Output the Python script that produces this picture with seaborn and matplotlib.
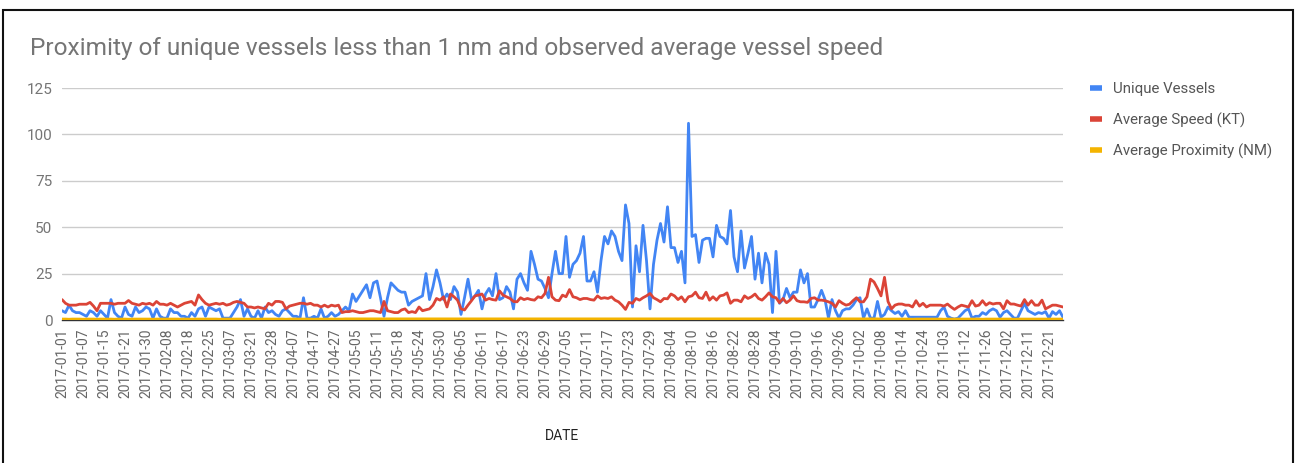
import numpy as np
import pandas as pd
import matplotlib
matplotlib.use("Agg")
import matplotlib.pyplot as plt
import seaborn as sns
from matplotlib.patches import Rectangle
from matplotlib.lines import Line2D

# ---- data (one value per plotted date) ----
unique_vessels = [
    5, 4, 8, 5, 4, 4,   3, 2, 5, 4, 2, 5,   3, 1, 11, 4, 2, 1,   7, 3, 2, 7, 4, 5,
    7, 6, 1, 6, 2, 1,   1, 6, 4, 4, 2, 2,   1, 4, 2, 6, 7, 2,   7, 6, 5, 6, 1, 1,
    1, 4, 7, 11, 2, 6,  2, 1, 5, 1, 7, 4,   5, 3, 2, 5, 6, 4,   2, 2, 1, 12, 1, 1,
    2, 1, 6, 1, 2, 4,   2, 3, 5, 7, 5, 14,  10, 13, 16, 19, 12, 20, 21, 12, 2, 12, 20, 18,
    16, 15, 15, 8, 10, 11, 12, 13, 25, 11, 18, 27, 20, 11, 14, 11, 18, 15, 3, 12, 22, 11, 13, 16,
    6, 14, 17, 13, 25, 11, 12, 18, 15, 6, 22, 25, 20, 16, 37, 30, 22, 21, 17, 12, 25, 37, 25, 25,
    45, 23, 30, 32, 36, 45, 21, 21, 26, 15, 32, 45, 41, 48, 45, 37, 32, 62, 52, 7, 40, 26, 51, 32,
    6, 30, 43, 52, 42, 61, 39, 39, 31, 37, 20, 106, 45, 46, 31, 43, 44, 44, 34, 51, 45, 44, 41, 59,
    34, 26, 48, 28, 36, 45, 22, 36, 20, 36, 30, 4, 37, 9, 11, 17, 12, 15, 15, 27, 20, 25, 7, 7,
    11, 16, 11, 1, 11, 5, 1, 5, 6, 6, 8, 11, 12, 1, 6, 1, 1, 10, 1.5, 3, 7, 5, 3.5, 4.5,
    2, 5, 1.5, 1.5, 1.5, 1.5, 1.5, 1.5, 1.5, 1.5, 1.5, 5, 7, 2, 1, 0.5, 1, 3, 5, 6, 1, 2, 2, 4,
    3, 5, 6, 5, 1.5, 4, 5, 3, 1, 1, 5, 9, 5, 4, 3, 4, 3.5, 4.5, 1, 4.5, 3, 5, 1.5,
]

average_speed = [
    11, 9, 8, 8, 8, 8.5,   8.5, 8.5, 9.5, 7.5, 5, 9,   9, 9, 9, 8.5, 9, 9,   9, 10.5, 9, 8.5, 8, 9,
    8.5, 9, 8, 10, 8.5, 8.5,   8, 9, 8, 7, 8, 9,   9.5, 10, 8, 13.5, 11, 9,   8, 8.5, 9, 8.5, 9, 8,
    8.5, 9.5, 10, 9.5, 9, 7,   7, 6.5, 7, 6.5, 6, 9,   8, 10, 10, 9.5, 6, 7.5,   8, 8.5, 9, 9, 8.5, 9,
    8, 8, 7, 8, 7, 8,   7.5, 8, 4, 4.5, 4.5, 5,   4.5, 4, 4, 4.5, 5, 5,   4.5, 4, 10, 5, 4.5, 4,
    4, 5.4, 6, 4, 4.5, 4,   7, 5, 5.5, 6, 8, 11.6,   10.7, 12.5, 7, 14, 12.5, 10.7,   6, 5.4, 8, 10.4, 13, 13.4,
    14, 10.7, 11.6, 11, 10.7, 15.7,   13.4, 12.5, 11.6, 10, 9.8, 12,   11, 11.6, 11, 10.7, 12.5, 12,
    14.3, 23, 12.5, 10.7, 10.4, 13.4,   12.5, 16.4, 12.5, 12, 11, 11.6,   11.6, 11, 10.7, 13, 11.6, 12,
    11.6, 12.5, 10.7, 9.8, 8, 5.7,   9.5, 9, 11.6, 10.7, 12, 13,   14.3, 12, 11, 9.8, 11.6, 11.4,
    14, 13, 11, 12.5, 9.8, 12.5,   13, 15, 12, 11.6, 15, 10.7,   12.5, 10.7, 13, 13.4, 14.6, 9,
    10.7, 10.7, 9.8, 13, 11.6, 12.5,   14, 11.6, 10.7, 12.5, 14.6, 12.5,   12, 9.3, 11.6, 9.3, 10.7, 13,
    10.4, 9.8, 9.8, 9.5, 11.6, 12,   10.7, 10.7, 10.4, 9.8, 9, 7,   10.4, 9, 8, 8.5, 10.4, 12,
    9.8, 9.8, 12.5, 22, 20.5, 17,   13, 23, 10, 6, 8, 8.6,   8.6, 8, 8, 7, 10.4, 7.5,
    9, 7, 8, 8, 8, 8,   7.5, 8.6, 7, 5.7, 7, 8,   7.5, 7, 10.4, 7.5, 8, 10.4,
    8, 9.3, 8.6, 9, 9, 6,   10.4, 8.6, 8.6, 8, 7.5, 11,   8, 10.4, 8, 8, 10.7, 6,   7, 8, 8, 7.5, 7,
]

average_proximity = [
    0.5, 0.5, 0.4, 0.5, 0.5, 0.5,  0.4, 0.5, 0.5, 0.5, 0.4, 0.5,  0.5, 0.5, 0.5, 0.4, 0.5, 0.5,
    0.5, 0.4, 0.5, 0.5, 0.5, 0.5,  0.5, 0.5, 0.4, 0.5, 0.5, 0.5,  0.5, 0.5, 0.5, 0.5, 0.4, 0.5,
    0.5, 0.4, 0.5, 0.5, 0.5, 0.5,  0.5, 0.5, 0.5, 0.4, 0.5, 0.5,  0.5, 0.5, 0.5, 0.5, 0.5, 0.4,
    0.5, 0.5, 0.4, 0.5, 0.5, 0.5,  0.5, 0.5, 0.5, 0.5, 0.4, 0.5,  0.5, 0.5, 0.5, 0.5, 0.5, 0.5,
    0.4, 0.5, 0.5, 0.5, 0.5, 0.5,  0.5, 0.5, 0.5, 0.6, 0.6, 0.6,  0.6, 0.6, 0.6, 0.6, 0.6, 0.6,
    0.6, 0.6, 0.6, 0.6, 0.6, 0.6,  0.6, 0.6, 0.6, 0.6, 0.6, 0.6,  0.6, 0.6, 0.6, 0.6, 0.6, 0.6,
    0.6, 0.6, 0.6, 0.6, 0.6, 0.6,  0.6, 0.6, 0.6, 0.6, 0.6, 0.6,  0.6, 0.6, 0.6, 0.6, 0.6, 0.6,
    0.6, 0.6, 0.6, 0.6, 0.6, 0.6,  0.6, 0.6, 0.6, 0.6, 0.6, 0.6,  0.6, 0.6, 0.6, 0.6, 0.6, 0.6,
    0.6, 0.6, 0.6, 0.6, 0.6, 0.6,  0.6, 0.6, 0.6, 0.6, 0.6, 0.6,  0.6, 0.6, 0.6, 0.6, 0.6, 0.6,
    0.6, 0.6, 0.6, 0.6, 0.6, 0.6,  0.6, 0.6, 0.6, 0.6, 0.6, 0.6,  0.6, 0.6, 0.6, 0.6, 0.6, 0.6,
    0.6, 0.6, 0.6, 0.6, 0.6, 0.6,  0.6, 0.6, 0.6, 0.6, 0.6, 0.6,  0.6, 0.6, 0.6, 0.6, 0.6, 0.6,
    0.6, 0.6, 0.6, 0.6, 0.6, 0.6,  0.6, 0.6, 0.6, 0.6, 0.6, 0.6,  0.6, 0.6, 0.6, 0.6, 0.6, 0.6,
    0.6, 0.6, 0.6, 0.6, 0.6, 0.6,  0.6, 0.6, 0.6, 0.6, 0.6, 0.6,  0.6, 0.6, 0.6, 0.6, 0.6, 0.6,
    0.5, 0.5, 0.5, 0.5, 0.5, 0.5,  0.5, 0.5, 0.5, 0.4, 0.5, 0.5,  0.5, 0.5, 0.5, 0.5, 0.5, 0.5,
    0.4, 0.5, 0.5, 0.5, 0.5, 0.5,  0.5, 0.5, 0.5, 0.5, 0.5, 0.4,  0.5, 0.5, 0.5, 0.5, 0.5, 0.5,
    0.5, 0.5, 0.4, 0.5, 0.5, 0.5,  0.5, 0.5, 0.5, 0.5, 0.5, 0.5,  0.5, 0.5, 0.5, 0.5, 0.5,
]

tick_labels = [
    "2017-01-01", "2017-01-07", "2017-01-15", "2017-01-21", "2017-01-30", "2017-02-08",
    "2017-02-18", "2017-02-25", "2017-03-07", "2017-03-21", "2017-03-28", "2017-04-07",
    "2017-04-17", "2017-04-27", "2017-05-05", "2017-05-11", "2017-05-18", "2017-05-24",
    "2017-05-30", "2017-06-05", "2017-06-11", "2017-06-17", "2017-06-23", "2017-06-29",
    "2017-07-05", "2017-07-11", "2017-07-17", "2017-07-23", "2017-07-29", "2017-08-04",
    "2017-08-10", "2017-08-16", "2017-08-22", "2017-08-28", "2017-09-04", "2017-09-10",
    "2017-09-16", "2017-09-26", "2017-10-02", "2017-10-08", "2017-10-14", "2017-10-24",
    "2017-11-03", "2017-11-12", "2017-11-26", "2017-12-02", "2017-12-11", "2017-12-21",
]

series_names = ["Unique Vessels", "Average Speed (KT)", "Average Proximity (NM)"]
series_colors = ["#4285F4", "#DB4437", "#F4B400"]

# ---- build long-form table ----
n = len(unique_vessels)
pos = np.arange(n)
df = pd.concat([
    pd.DataFrame({"pos": pos, "value": unique_vessels, "series": series_names[0]}),
    pd.DataFrame({"pos": pos, "value": average_speed, "series": series_names[1]}),
    pd.DataFrame({"pos": pos, "value": average_proximity, "series": series_names[2]}),
])

sns.set_theme(style="white")
plt.rcParams["font.family"] = ["Roboto", "DejaVu Sans"]

W, H = 1296, 463
fig = plt.figure(figsize=(W / 100, H / 100), dpi=100)
left, right, top, bottom = 62, 1063, 88, 320
ax = fig.add_axes([left / W, 1 - bottom / H, (right - left) / W, (bottom - top) / H])

palette = dict(zip(series_names, series_colors))
sns.lineplot(data=df, x="pos", y="value", hue="series", hue_order=series_names,
             palette=palette, linewidth=2.0, sort=False, legend=False, ax=ax, zorder=3)
for line in ax.get_lines():
    if matplotlib.colors.to_hex(line.get_color()).lower() == "#f4b400":
        line.set_zorder(5)

ax.set_xlim(0, n - 1)
ax.set_ylim(0, 125)
ax.set_yticks([0, 25, 50, 75, 100, 125])
ax.yaxis.grid(True, color="#cccccc", linewidth=1)
ax.xaxis.grid(False)
for s in ["top", "right", "left"]:
    ax.spines[s].set_visible(False)
ax.spines["bottom"].set_color("#333333")
ax.spines["bottom"].set_linewidth(1)

ax.set_xticks(np.arange(0, 6 * len(tick_labels), 6))
ax.set_xticklabels(tick_labels, rotation=90)
ax.tick_params(axis="x", length=0, pad=6, labelsize=10, labelcolor="#666666")
ax.tick_params(axis="y", length=0, pad=7, labelsize=11, labelcolor="#757575")
ax.set_xlabel("")
ax.set_ylabel("")

fig.text(562 / W, 1 - 436 / H, "DATE", ha="center", va="center", fontsize=10, color="#222222")
fig.text(30 / W, 1 - 49 / H, "Proximity of unique vessels less than 1 nm and observed average vessel speed",
         ha="left", va="center", fontsize=17.6, color="#757575")

handles = [Line2D([], [], color=c, linewidth=4, solid_capstyle="butt") for c in series_colors]
fig.legend(handles, series_names, loc="upper left", bbox_to_anchor=(1076 / W, 1 - 69 / H),
           frameon=False, handlelength=0.8, handletextpad=0.75, labelspacing=1.05,
           fontsize=10.8, labelcolor="#555555")

fig.patches.append(Rectangle((3 / W, -0.01), 1290 / W, (H - 10) / H + 0.01, transform=fig.transFigure,
                             fill=False, edgecolor="#111111", linewidth=1.5))

fig.savefig("out.png", dpi=100, facecolor="white")
